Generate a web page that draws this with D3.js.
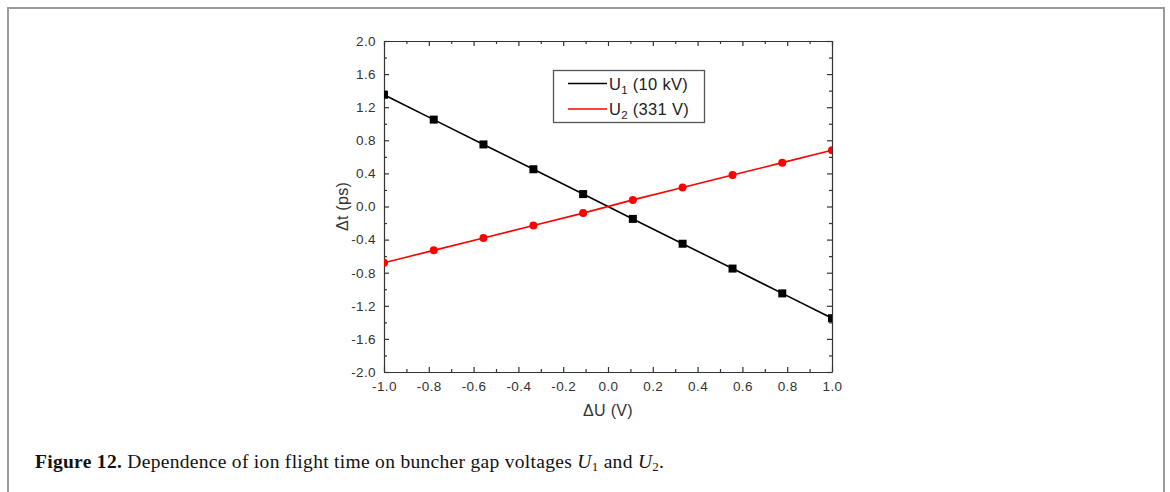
<!DOCTYPE html>
<html>
<head>
<meta charset="utf-8">
<script src="https://cdn.jsdelivr.net/npm/d3@7"></script>
<style>
  html, body { margin: 0; padding: 0; background: #fff; }
  svg { display: block; }
</style>
</head>
<body>
<svg id="chart" width="1170" height="492"></svg>
<script>
// Voltage offsets (V)
const deltaU = [-1.0, -0.778, -0.556, -0.333, -0.111, 0.111, 0.333, 0.556, 0.778, 1.0];
// Flight-time shift for gap U1 (10 kV), ps
const dtU1 = [1.35, 1.05, 0.75, 0.45, 0.15, -0.15, -0.45, -0.75, -1.05, -1.35];
// Flight-time shift for gap U2 (331 V), ps
const dtU2 = [-0.68, -0.53, -0.38, -0.23, -0.08, 0.08, 0.23, 0.38, 0.53, 0.68];

const xTicks = [-1.0, -0.8, -0.6, -0.4, -0.2, 0.0, 0.2, 0.4, 0.6, 0.8, 1.0];
const yTicks = [-2.0, -1.6, -1.2, -0.8, -0.4, 0.0, 0.4, 0.8, 1.2, 1.6, 2.0];

const svg = d3.select("#chart");

// Page frame around the figure
svg.append("path")
  .attr("d", "M8,500 L8,8 L1164,8 L1164,500")
  .attr("fill", "none")
  .attr("stroke", "#9a9a9a")
  .attr("stroke-width", 2);

const plot = { left: 384, right: 832, top: 41, bottom: 372 };

const x = d3.scaleLinear().domain([-1, 1]).range([plot.left, plot.right]);
const y = d3.scaleLinear().domain([-2, 2]).range([plot.bottom, plot.top]);

const axisColor = "#333";
const tickFont = "Arial, 'Liberation Sans', sans-serif";
// One decimal, plain hyphen for negatives
const fmt = v => v.toFixed(1).replace("−", "-");

// Minor tick positions (halfway between labelled ticks)
const xMinor = d3.range(-0.9, 1.0, 0.2).map(v => +v.toFixed(2));
const yMinor = d3.range(-1.8, 2.0, 0.4).map(v => +v.toFixed(2));

function styleAxis(g) {
  g.select(".domain").attr("stroke", axisColor).attr("stroke-width", 1.2);
  g.selectAll(".tick line").attr("stroke", axisColor).attr("stroke-width", 1.2);
  g.selectAll(".tick text")
    .attr("fill", "#333")
    .style("font-family", tickFont)
    .style("font-size", "13.5px")
    .style("letter-spacing", "0.4px");
}
function minorLines(g) {
  g.select(".domain").remove();
  g.selectAll("line").attr("stroke", axisColor).attr("stroke-width", 1.2);
}

// Bottom axis with labels, ticks pointing inward
const gx = svg.append("g").attr("transform", `translate(0,${plot.bottom})`)
  .call(d3.axisBottom(x).tickValues(xTicks).tickSizeInner(-5).tickSizeOuter(0)
    .tickPadding(9).tickFormat(fmt));
styleAxis(gx);
svg.append("g").attr("transform", `translate(0,${plot.bottom})`)
  .call(d3.axisBottom(x).tickValues(xMinor).tickSizeInner(-3).tickSizeOuter(0).tickFormat(""))
  .call(minorLines);

// Top axis, ticks only
const gxt = svg.append("g").attr("transform", `translate(0,${plot.top})`)
  .call(d3.axisTop(x).tickValues(xTicks).tickSizeInner(-5).tickSizeOuter(0).tickFormat(""));
styleAxis(gxt);
svg.append("g").attr("transform", `translate(0,${plot.top})`)
  .call(d3.axisTop(x).tickValues(xMinor).tickSizeInner(-3).tickSizeOuter(0).tickFormat(""))
  .call(minorLines);

// Left axis with labels
const gy = svg.append("g").attr("transform", `translate(${plot.left},0)`)
  .call(d3.axisLeft(y).tickValues(yTicks).tickSizeInner(-5).tickSizeOuter(0)
    .tickPadding(8).tickFormat(fmt));
styleAxis(gy);
svg.append("g").attr("transform", `translate(${plot.left},0)`)
  .call(d3.axisLeft(y).tickValues(yMinor).tickSizeInner(-3).tickSizeOuter(0).tickFormat(""))
  .call(minorLines);

// Right axis, ticks only
const gyr = svg.append("g").attr("transform", `translate(${plot.right},0)`)
  .call(d3.axisRight(y).tickValues(yTicks).tickSizeInner(-5).tickSizeOuter(0).tickFormat(""));
styleAxis(gyr);
svg.append("g").attr("transform", `translate(${plot.right},0)`)
  .call(d3.axisRight(y).tickValues(yMinor).tickSizeInner(-3).tickSizeOuter(0).tickFormat(""))
  .call(minorLines);

// Axis titles
svg.append("text")
  .attr("x", (plot.left + plot.right) / 2)
  .attr("y", 416)
  .attr("text-anchor", "middle")
  .attr("fill", "#333")
  .style("font-family", tickFont)
  .style("font-size", "16px")
  .style("letter-spacing", "0.3px")
  .text("ΔU (V)");

svg.append("text")
  .attr("transform", `translate(348,${y(0)}) rotate(-90)`)
  .attr("text-anchor", "middle")
  .attr("fill", "#333")
  .style("font-family", tickFont)
  .style("font-size", "16px")
  .style("letter-spacing", "0.3px")
  .text("Δt (ps)");

// Data series, clipped to the plot frame
svg.append("clipPath").attr("id", "plot-clip")
  .append("rect")
  .attr("x", plot.left).attr("y", plot.top)
  .attr("width", plot.right - plot.left).attr("height", plot.bottom - plot.top);

const series = [
  { values: dtU1, color: "#000", marker: "square" },
  { values: dtU2, color: "#f00", marker: "circle" }
];

const dataLayer = svg.append("g").attr("clip-path", "url(#plot-clip)");
const line = d3.line().x(d => x(d[0])).y(d => y(d[1]));

series.forEach(s => {
  const pts = deltaU.map((u, i) => [u, s.values[i]]);
  dataLayer.append("path")
    .datum(pts)
    .attr("d", line)
    .attr("fill", "none")
    .attr("stroke", s.color)
    .attr("stroke-width", 1.6);
  if (s.marker === "square") {
    dataLayer.selectAll(null).data(pts).enter().append("rect")
      .attr("x", d => x(d[0]) - 4).attr("y", d => y(d[1]) - 4)
      .attr("width", 8).attr("height", 8)
      .attr("fill", s.color);
  } else {
    dataLayer.selectAll(null).data(pts).enter().append("circle")
      .attr("cx", d => x(d[0])).attr("cy", d => y(d[1]))
      .attr("r", 4)
      .attr("fill", s.color);
  }
});

// Legend
const legend = svg.append("g");
legend.append("rect")
  .attr("x", 553.5).attr("y", 70.5).attr("width", 151).attr("height", 52)
  .attr("fill", "#fff").attr("stroke", "#555").attr("stroke-width", 1.3);

const legendItems = [
  { color: "#000", sub: "1", rest: " (10 kV)" },
  { color: "#f00", sub: "2", rest: " (331 V)" }
];
legendItems.forEach((d, i) => {
  const ly = 83.5 + i * 25.5;
  legend.append("line")
    .attr("x1", 568).attr("x2", 607).attr("y1", ly).attr("y2", ly)
    .attr("stroke", d.color).attr("stroke-width", 1.6);
  const t = legend.append("text")
    .attr("x", 609).attr("y", ly + 6)
    .attr("fill", "#222")
    .style("font-family", tickFont)
    .style("font-size", "16.5px")
    .style("letter-spacing", "0.3px");
  t.append("tspan").text("U");
  t.append("tspan").attr("dy", 4).style("font-size", "11.5px").text(d.sub);
  t.append("tspan").attr("dy", -4).text(d.rest);
});

// Caption
const cap = svg.append("text")
  .attr("x", 35).attr("y", 468)
  .attr("fill", "#111")
  .style("font-family", "'Liberation Serif', 'DejaVu Serif', serif")
  .style("font-size", "19.5px")
  .style("letter-spacing", "0.3px");
cap.append("tspan").style("font-weight", "bold").text("Figure 12.");
cap.append("tspan").text(" Dependence of ion flight time on buncher gap voltages ");
cap.append("tspan").style("font-style", "italic").text("U");
cap.append("tspan").attr("dy", 3).style("font-size", "13px").text("1");
cap.append("tspan").attr("dy", -3).text(" and ");
cap.append("tspan").style("font-style", "italic").text("U");
cap.append("tspan").attr("dy", 3).style("font-size", "13px").text("2");
cap.append("tspan").attr("dy", -3).text(".");
</script>
</body>
</html>
